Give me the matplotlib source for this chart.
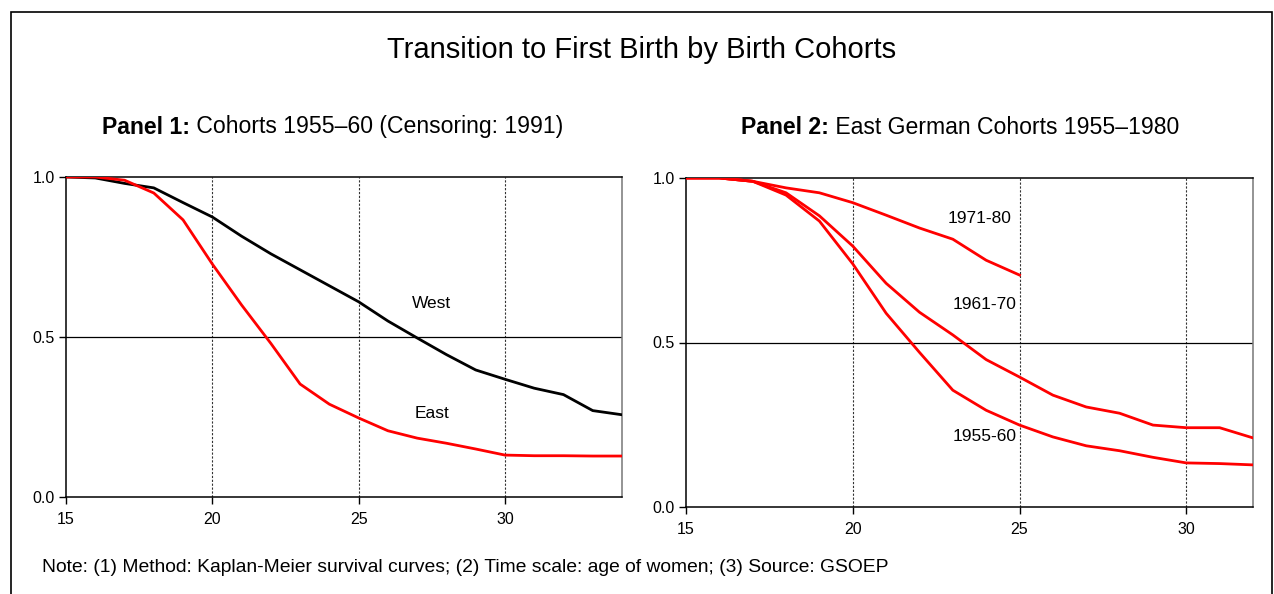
import numpy as np
import matplotlib
matplotlib.use("Agg")
import matplotlib.pyplot as plt
from matplotlib.patches import Rectangle

plt.rcParams['font.family'] = ['Liberation Sans', 'DejaVu Sans']

# Panel 1: cohorts 1955-60, ages 15..34
ages1 = list(range(15, 35))
west = [1.0, 0.997, 0.98, 0.966, 0.92, 0.875, 0.815, 0.76, 0.71, 0.66,
        0.61, 0.55, 0.497, 0.445, 0.397, 0.368, 0.34, 0.32, 0.27, 0.257]
east = [1.0, 1.0, 0.99, 0.95, 0.866, 0.728, 0.6, 0.48, 0.353, 0.29,
        0.247, 0.207, 0.184, 0.168, 0.15, 0.131, 0.129, 0.129, 0.128, 0.128]

# Panel 2: east german cohorts
ages_7180 = list(range(15, 26))
c7180 = [1.0, 1.0, 0.99, 0.97, 0.955, 0.925, 0.887, 0.848, 0.814, 0.75, 0.705]
ages2 = list(range(15, 33))
c6170 = [1.0, 1.0, 0.99, 0.955, 0.885, 0.793, 0.68, 0.592, 0.523, 0.448,
         0.395, 0.34, 0.304, 0.285, 0.249, 0.241, 0.241, 0.21]
c5560 = [1.0, 1.0, 0.99, 0.948, 0.869, 0.739, 0.589, 0.47, 0.355, 0.294,
         0.249, 0.213, 0.186, 0.171, 0.151, 0.134, 0.132, 0.128]

xticks = [15, 20, 25, 30]
yticks = [0.0, 0.5, 1.0]

W, H = 1274, 594
fig = plt.figure(figsize=(W / 100, H / 100), dpi=100)

# frame round the whole figure (open at the bottom)
fig.patches.append(Rectangle((11 / W, -0.05), 1261 / W, 1.05 - 12 / H,
                             transform=fig.transFigure, fill=False,
                             edgecolor='black', linewidth=1.2))

fig.text(642 / W, 1 - 50 / H, 'Transition to First Birth by Birth Cohorts',
         ha='center', va='center', fontsize=21)


def panel_title(x_px, bold, rest):
    # bold lead-in, then the plain rest right after it
    t = fig.text(x_px / W, 1 - 127 / H, bold, ha='left', va='center',
                 fontsize=16.6, fontweight='bold')
    fig.add_artist(plt.Annotation(' ' + rest, xy=(1, 0.5), xycoords=t,
                                  ha='left', va='center', fontsize=16.6))


panel_title(102, 'Panel 1:', 'Cohorts 1955–60 (Censoring: 1991)')
panel_title(741, 'Panel 2:', 'East German Cohorts 1955–1980')

fig.text(42 / W, 1 - 567 / H,
         'Note: (1) Method: Kaplan-Meier survival curves; (2) Time scale: age of women; (3) Source: GSOEP',
         ha='left', va='center', fontsize=13.9)

ax1 = fig.add_axes([66 / W, 1 - 497 / H, 556 / W, 320 / H])
ax2 = fig.add_axes([686 / W, 1 - 507 / H, 567 / W, 329 / H])


def style(ax, xmax):
    ax.set_xlim(15, xmax)
    ax.set_ylim(0, 1)
    ax.set_xticks(xticks)
    ax.set_yticks(yticks)
    ax.set_yticklabels(['0.0', '0.5', '1.0'])
    ax.tick_params(labelsize=11.5, length=5, width=1, direction='out', pad=3)
    ax.tick_params(axis='x', pad=6)
    for x in [20, 25, 30]:
        ax.axvline(x, color='#333333', linestyle=(0, (2, 1.5)), linewidth=0.8, zorder=1)
    ax.axhline(0.5, color='black', linewidth=0.9, zorder=1)
    for s in ['left', 'bottom', 'top']:
        ax.spines[s].set_color('black')
        ax.spines[s].set_linewidth(1.1)
    ax.spines['right'].set_color('#777777')
    ax.spines['right'].set_linewidth(1.1)


style(ax1, 34)
ax1.plot(ages1, west, color='black', linewidth=2, zorder=3)
ax1.plot(ages1, east, color='#ff0000', linewidth=2, zorder=3)
ax1.text(27.5, 0.606, 'West', ha='center', va='center', fontsize=12.5)
ax1.text(27.5, 0.2625, 'East', ha='center', va='center', fontsize=12.5)

style(ax2, 32)
ax2.plot(ages_7180, c7180, color='#ff0000', linewidth=2, zorder=3)
ax2.plot(ages2, c6170, color='#ff0000', linewidth=2, zorder=3)
ax2.plot(ages2, c5560, color='#ff0000', linewidth=2, zorder=3)
ax2.text(23.8, 0.878, '1971-80', ha='center', va='center', fontsize=12.5)
ax2.text(23.95, 0.617, '1961-70', ha='center', va='center', fontsize=12.5)
ax2.text(23.95, 0.213, '1955-60', ha='center', va='center', fontsize=12.5)

fig.savefig('out.png', dpi=100)
